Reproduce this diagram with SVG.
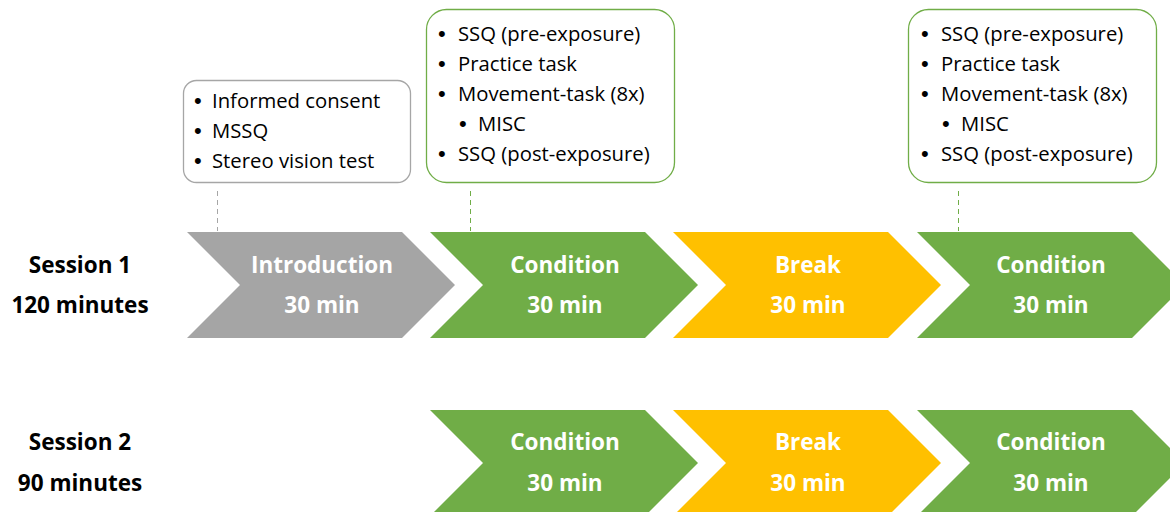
<svg xmlns="http://www.w3.org/2000/svg" width="1170" height="512" viewBox="0 0 1170 512">
<style>
.lbl{font-family:"Open Sans","Liberation Sans",sans-serif;font-weight:bold;font-size:22.5px;fill:#ffffff;text-anchor:middle}
.ses{font-family:"Open Sans","Liberation Sans",sans-serif;font-weight:bold;font-size:22.5px;fill:#000000;text-anchor:middle}
.item{font-family:"Open Sans","Liberation Sans",sans-serif;font-size:20.3px;fill:#000000}
.bul{font-family:"Liberation Sans",sans-serif;font-size:22px;fill:#000000}
.gray{fill:#a5a5a5}
.green{fill:#70ad47}
.yellow{fill:#ffc000}
.boxg{fill:#ffffff;stroke:#a6a6a6;stroke-width:1.3}
.boxgr{fill:#ffffff;stroke:#70ad47;stroke-width:1.3}
.dash{stroke-width:1;stroke-dasharray:5 4;fill:none}
</style>
<defs>
<polygon id="chev" points="0,0 215,0 268,53 215,106 0,106 53,53"/>
</defs>
<rect width="1170" height="512" fill="#ffffff"/>
<g id="session1-label">
<text class="ses" x="80" y="273">Session 1</text>
<text class="ses" x="80" y="313">120 minutes</text>
</g>
<g id="session2-label">
<text class="ses" x="80" y="450">Session 2</text>
<text class="ses" x="80" y="491">90 minutes</text>
</g>
<g id="s1-intro">
<use href="#chev" x="187" y="232" class="gray"/>
<text class="lbl" x="322" y="273">Introduction</text>
<text class="lbl" x="322" y="313">30 min</text>
</g>
<g id="s1-cond1">
<use href="#chev" x="430" y="232" class="green"/>
<text class="lbl" x="565" y="273">Condition</text>
<text class="lbl" x="565" y="313">30 min</text>
</g>
<g id="s1-break">
<use href="#chev" x="673" y="232" class="yellow"/>
<text class="lbl" x="808" y="273">Break</text>
<text class="lbl" x="808" y="313">30 min</text>
</g>
<g id="s1-cond2">
<use href="#chev" x="917" y="232" class="green"/>
<text class="lbl" x="1051" y="273">Condition</text>
<text class="lbl" x="1051" y="313">30 min</text>
</g>
<g id="s2-cond1">
<use href="#chev" x="430" y="410" class="green"/>
<text class="lbl" x="565" y="450">Condition</text>
<text class="lbl" x="565" y="491">30 min</text>
</g>
<g id="s2-break">
<use href="#chev" x="673" y="410" class="yellow"/>
<text class="lbl" x="808" y="450">Break</text>
<text class="lbl" x="808" y="491">30 min</text>
</g>
<g id="s2-cond2">
<use href="#chev" x="917" y="410" class="green"/>
<text class="lbl" x="1051" y="450">Condition</text>
<text class="lbl" x="1051" y="491">30 min</text>
</g>
<g id="box-intro">
<rect class="boxg" x="183.5" y="80.5" width="227" height="102" rx="13"/>
<text class="bul" x="194" y="108">•</text><text class="item" x="212" y="108">Informed consent</text>
<text class="bul" x="194" y="138">•</text><text class="item" x="212" y="138">MSSQ</text>
<text class="bul" x="194" y="168">•</text><text class="item" x="212" y="168">Stereo vision test</text>
</g>
<g id="box-cond1">
<rect class="boxgr" x="426.5" y="9.5" width="248" height="173" rx="20"/>
<text class="bul" x="438" y="41">•</text><text class="item" x="458" y="41">SSQ (pre-exposure)</text>
<text class="bul" x="438" y="71">•</text><text class="item" x="458" y="71">Practice task</text>
<text class="bul" x="438" y="101">•</text><text class="item" x="458" y="101">Movement-task (8x)</text>
<text class="bul" x="459" y="131">•</text><text class="item" x="478" y="131">MISC</text>
<text class="bul" x="438" y="161">•</text><text class="item" x="458" y="161">SSQ (post-exposure)</text>
</g>
<g id="box-cond2">
<rect class="boxgr" x="908.5" y="9.5" width="248" height="173" rx="20"/>
<text class="bul" x="921" y="41">•</text><text class="item" x="941" y="41">SSQ (pre-exposure)</text>
<text class="bul" x="921" y="71">•</text><text class="item" x="941" y="71">Practice task</text>
<text class="bul" x="921" y="101">•</text><text class="item" x="941" y="101">Movement-task (8x)</text>
<text class="bul" x="942" y="131">•</text><text class="item" x="961" y="131">MISC</text>
<text class="bul" x="921" y="161">•</text><text class="item" x="941" y="161">SSQ (post-exposure)</text>
</g>
<g id="connectors">
<line class="dash" x1="217.5" y1="191" x2="217.5" y2="231" stroke="#a6a6a6"/>
<line class="dash" x1="470.5" y1="191" x2="470.5" y2="231" stroke="#70ad47"/>
<line class="dash" x1="958.5" y1="191" x2="958.5" y2="231" stroke="#70ad47"/>
</g>
</svg>
